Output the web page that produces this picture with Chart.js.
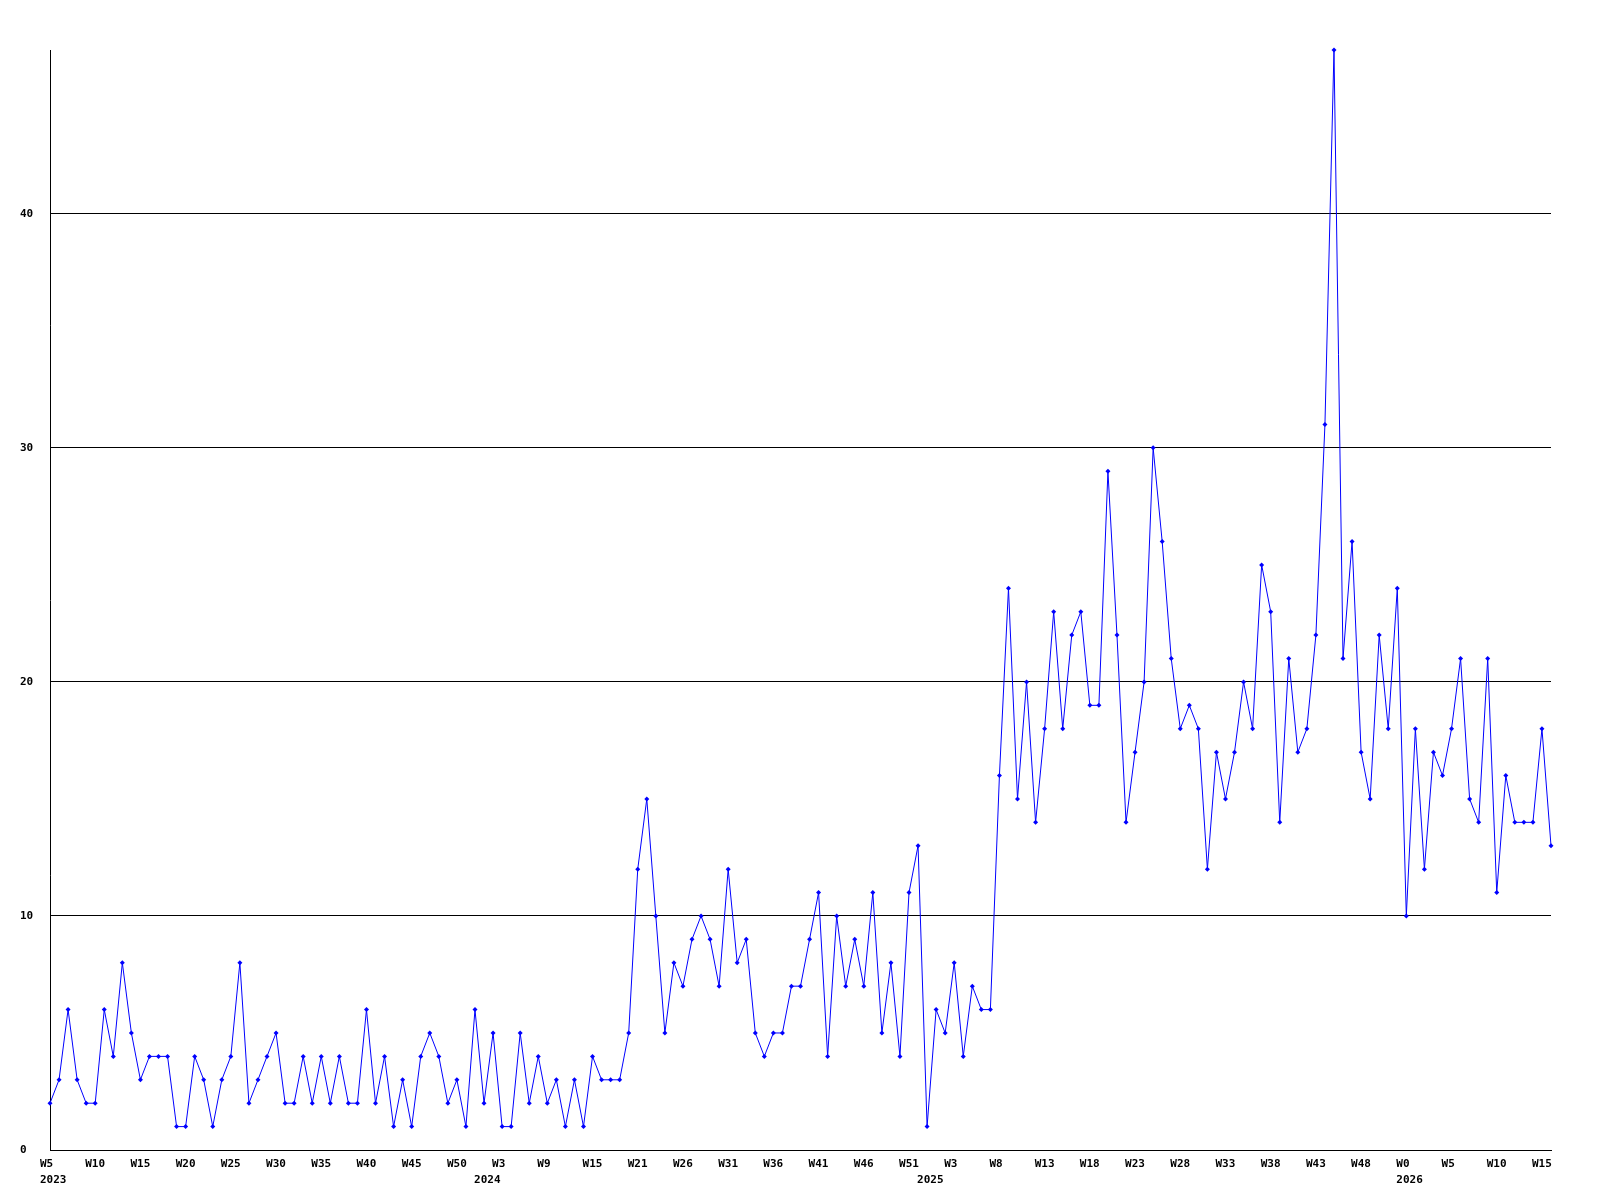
<!DOCTYPE html>
<html>
<head>
<meta charset="utf-8">
<script src="https://cdn.jsdelivr.net/npm/chart.js@4/dist/chart.umd.min.js"></script>
<style>
  html, body { margin: 0; padding: 0; background: #ffffff; }
  #wrap { width: 1600px; height: 1200px; }
</style>
</head>
<body>
<div id="wrap"><canvas id="c" width="1600" height="1200"></canvas></div>
<script>
// Weekly values, one per week, from 2023 W5 to 2026 W16
const values = [
  2,3,6,3,2,2,6,4,8,5,3,4,4,4,1,1,4,3,1,3,4,8,2,3,4,5,2,2,4,2,4,2,
  4,2,2,6,2,4,1,3,1,4,5,4,2,3,1,6,2,5,1,1,5,2,4,2,3,1,3,1,4,3,3,3,
  5,12,15,10,5,8,7,9,10,9,7,12,8,9,5,4,5,5,7,7,9,11,4,10,7,9,7,11,5,8,4,11,13,
  1,6,5,8,4,7,6,6,16,24,15,20,14,18,23,18,22,23,19,19,29,22,14,17,20,
  30,26,21,18,19,18,12,17,15,17,20,18,25,23,14,21,17,18,22,31,47,21,26,17,15,22,18,24,10,
  18,12,17,16,18,21,15,14,21,11,16,14,14,14,18,13
];

// Week tick labels, shown on every 5th week
const weekTicks = [
  'W5','W10','W15','W20','W25','W30','W35','W40','W45','W50',
  'W3','W9','W15','W21','W26','W31','W36','W41','W46','W51',
  'W3','W8','W13','W18','W23','W28','W33','W38','W43','W48',
  'W0','W5','W10','W15'
];
const tickEvery = 5;

// Year labels and the week index where each year starts
const yearNames = ['2023','2024','2025','2026'];
const yearStartIdx = [0, 48, 97, 150];

const labels = values.map((_, i) => {
  const wk = (i % tickEvery === 0 && weekTicks[i / tickEvery]) ? weekTicks[i / tickEvery] : '';
  const y = yearStartIdx.indexOf(i);
  return y >= 0 ? [wk, yearNames[y]] : wk;
});

const FONT = { family: '"DejaVu Sans Mono", "Liberation Mono", monospace', size: 11, weight: 'bold', lineHeight: '16px' };

new Chart(document.getElementById('c'), {
  type: 'line',
  data: {
    labels: labels,
    datasets: [{
      data: values,
      borderColor: '#0000ff',
      backgroundColor: '#0000ff',
      borderWidth: 1,
      tension: 0,
      pointStyle: 'rectRot',
      pointRadius: 2.5,
      pointBorderWidth: 0,
      pointBackgroundColor: '#0000ff',
      clip: false,
      fill: false
    }]
  },
  options: {
    responsive: false,
    animation: false,
    devicePixelRatio: 1,
    layout: { padding: { left: 20, top: 50, right: 49, bottom: 0 } },
    plugins: { legend: { display: false }, tooltip: { enabled: false } },
    scales: {
      x: {
        type: 'category',
        offset: false,
        grid: { display: false, drawTicks: false },
        border: { display: true, color: '#000000', width: 1 },
        ticks: {
          autoSkip: false,
          maxRotation: 0,
          minRotation: 0,
          align: 'start',
          labelOffset: -10,
          padding: 6,
          color: '#000000',
          font: FONT
        },
        afterFit: (s) => { s.height = 50; }
      },
      y: {
        min: 0,
        max: 47,
        grid: { display: true, color: '#000000', lineWidth: 1, drawTicks: false },
        border: { display: true, color: '#000000', width: 1 },
        ticks: {
          stepSize: 10,
          includeBounds: false,
          crossAlign: 'far',
          padding: 0,
          color: '#000000',
          font: FONT
        },
        afterFit: (s) => { s.width = 30; }
      }
    }
  }
});
</script>
</body>
</html>
